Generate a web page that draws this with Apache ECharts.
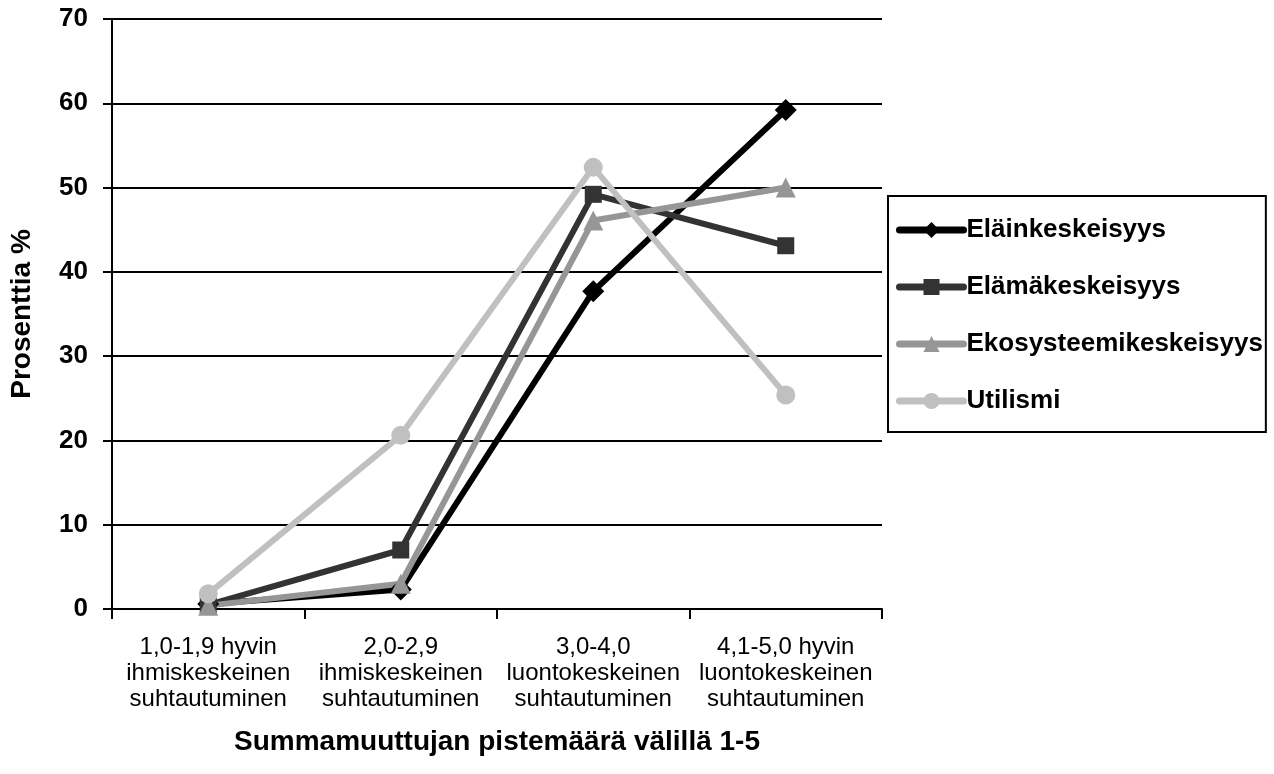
<!DOCTYPE html>
<html>
<head>
<meta charset="utf-8">
<script src="https://cdn.jsdelivr.net/npm/echarts@6/dist/echarts.min.js"></script>
<style>
  html, body { margin: 0; padding: 0; background: #fff; }
  #chart { width: 1274px; height: 774px; }
</style>
</head>
<body>
<div id="chart"></div>
<script>
const categories = [
  "1,0-1,9 hyvin\nihmiskeskeinen\nsuhtautuminen",
  "2,0-2,9\nihmiskeskeinen\nsuhtautuminen",
  "3,0-4,0\nluontokeskeinen\nsuhtautuminen",
  "4,1-5,0 hyvin\nluontokeskeinen\nsuhtautuminen"
];
const elainkeskeisyys = [0.6, 2.3, 37.7, 59.2];
const elamakeskeisyys = [0.5, 7.0, 49.2, 43.1];
const ekosysteemikeskeisyys = [0.4, 3.0, 46.1, 50.0];
const utilismi = [1.8, 20.6, 52.4, 25.4];

const font = "Liberation Sans, Arial, sans-serif";

function makeSeries(name, data, color, symbol, size) {
  return {
    name: name,
    type: "line",
    data: data,
    symbol: symbol,
    symbolSize: size,
    lineStyle: { color: color, width: 6 },
    itemStyle: { color: color },
    emphasis: { disabled: true },
    animation: false
  };
}

const chart = echarts.init(document.getElementById("chart"));
chart.setOption({
  backgroundColor: "#fff",
  textStyle: { fontFamily: font },
  grid: { left: 112, right: 392, top: 19, bottom: 165, outerBoundsMode: "none" },
  legend: {
    orient: "vertical",
    left: 888,
    top: 196,
    padding: [21, 3, 18, 8],
    itemWidth: 64,
    itemHeight: 20,
    itemGap: 31,
    borderColor: "#000",
    borderWidth: 2,
    lineStyle: { width: 7, cap: "round" },
    textStyle: { fontFamily: font, fontSize: 26, fontWeight: "bold", color: "#000", padding: [0, 0, 0, -2] },
    data: ["Eläinkeskeisyys", "Elämäkeskeisyys", "Ekosysteemikeskeisyys", "Utilismi"]
  },
  xAxis: {
    type: "category",
    data: categories,
    boundaryGap: true,
    name: "Summamuuttujan pistemäärä välillä 1-5",
    nameLocation: "middle",
    nameGap: 119,
    nameTextStyle: { fontFamily: font, fontSize: 28, fontWeight: "bold", color: "#000" },
    axisLine: { lineStyle: { color: "#000", width: 2 } },
    axisTick: { show: true, length: 10, lineStyle: { color: "#000", width: 2 } },
    axisLabel: { margin: 25, fontSize: 24, lineHeight: 26, color: "#000", fontFamily: font, interval: 0 }
  },
  yAxis: {
    type: "value",
    min: 0,
    max: 70,
    interval: 10,
    name: "Prosenttia %",
    nameLocation: "middle",
    nameGap: 76,
    nameTextStyle: { fontFamily: font, fontSize: 28, fontWeight: "bold", color: "#000" },
    axisLine: { show: true, lineStyle: { color: "#000", width: 2 } },
    axisTick: { show: true, length: 9, lineStyle: { color: "#000", width: 2 } },
    axisLabel: { margin: 24, fontSize: 26, fontWeight: "bold", color: "#000", fontFamily: font },
    splitLine: { show: true, lineStyle: { color: "#000", width: 2 } }
  },
  series: [
    makeSeries("Eläinkeskeisyys", elainkeskeisyys, "#000000", "diamond", 22),
    makeSeries("Elämäkeskeisyys", elamakeskeisyys, "#333333", "rect", 17),
    makeSeries("Ekosysteemikeskeisyys", ekosysteemikeskeisyys, "#969696", "triangle", 20),
    makeSeries("Utilismi", utilismi, "#c0c0c0", "circle", 19)
  ]
});
</script>
</body>
</html>
